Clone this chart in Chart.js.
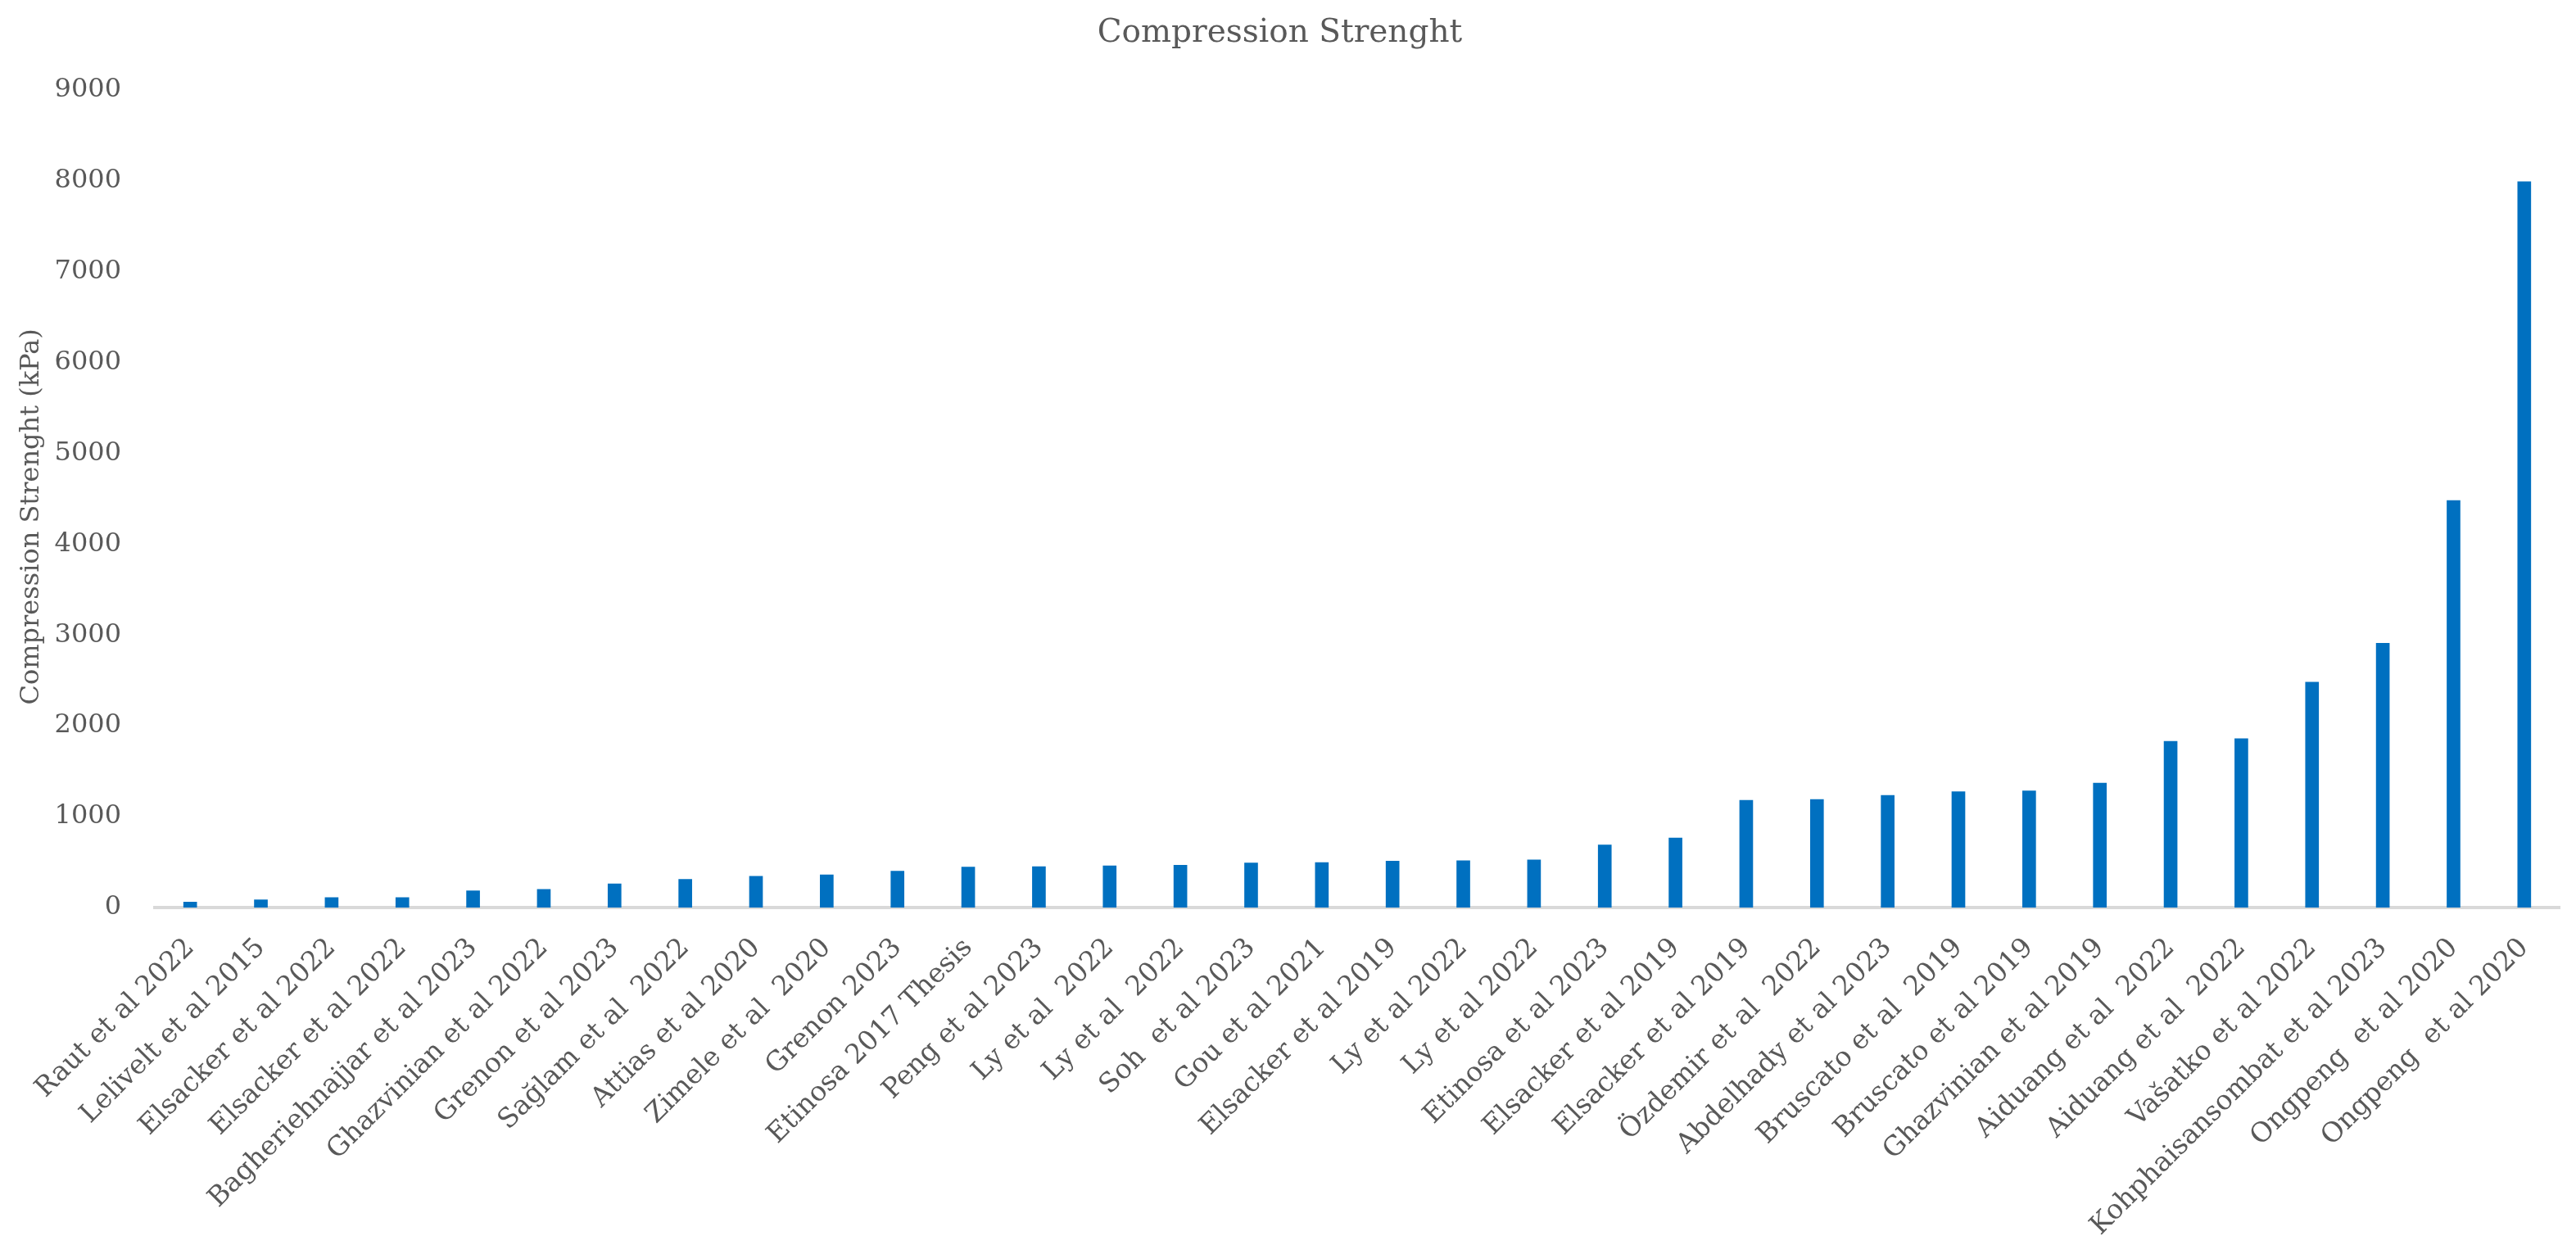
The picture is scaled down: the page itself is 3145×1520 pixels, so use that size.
<!DOCTYPE html>
<html>
<head>
<meta charset="utf-8">
<title>Compression Strenght</title>
<script src="https://cdn.jsdelivr.net/npm/chart.js@4.4.1/dist/chart.umd.min.js"></script>
<style>
  html, body { margin: 0; padding: 0; background: #ffffff; }
  #wrap { width: 3145px; height: 1520px; position: relative; }
</style>
</head>
<body>
<div id="wrap"><canvas id="chart"></canvas></div>
<script>
// Studies, sorted by value (as in the source chart)
const studies = [
  'Raut et al 2022', 'Lelivelt et al 2015', 'Elsacker et al 2022', 'Elsacker et al 2022',
  'Bagheriehnajjar et al 2023', 'Ghazvinian et al 2022', 'Grenon et al 2023', 'Sağlam et al  2022',
  'Attias et al 2020', 'Zimele et al  2020', 'Grenon 2023', 'Etinosa 2017 Thesis',
  'Peng et al 2023', 'Ly et al  2022', 'Ly et al  2022', 'Soh  et al 2023',
  'Gou et al 2021', 'Elsacker et al 2019', 'Ly et al 2022', 'Ly et al 2022',
  'Etinosa et al 2023', 'Elsacker et al 2019', 'Elsacker et al 2019', 'Özdemir et al  2022',
  'Abdelhady et al 2023', 'Bruscato et al  2019', 'Bruscato et al 2019', 'Ghazvinian et al 2019',
  'Aiduang et al  2022', 'Aiduang et al  2022', 'Vašatko et al 2022', 'Kohphaisansombat et al 2023',
  'Ongpeng  et al 2020', 'Ongpeng  et al 2020'
];

// Compression strength in kPa
const strengthKpa = [
  60, 85, 110, 110,
  185, 200, 260, 310,
  345, 360, 400, 445,
  450, 460, 465, 490,
  495, 510, 515, 525,
  690, 765, 1180, 1190,
  1235, 1275, 1285, 1370,
  1830, 1860, 2480, 2910,
  4480, 7990
];

// Y axis range
const yMin = 0;
const yMax = 9000;
const yStep = 1000;
const yTitle = 'Compression Strenght (kPa)';

const textColor = '#595959';
const barColor = '#0070C0';
const axisColor = '#D9D9D9';
const fontFamily = '"DejaVu Serif", "Liberation Serif", serif';

// Draws the rotated y axis title a bit below the plot centre, as in the source
const yTitlePlugin = {
  id: 'yTitle',
  afterDraw(chart) {
    const { ctx, chartArea } = chart;
    ctx.save();
    ctx.translate(39, (chartArea.top + chartArea.bottom) / 2 + 22);
    ctx.rotate(-Math.PI / 2);
    ctx.font = `32px ${fontFamily}`;
    ctx.fillStyle = textColor;
    ctx.textAlign = 'center';
    ctx.textBaseline = 'middle';
    ctx.fillText(yTitle, 0, 0);
    ctx.restore();
  }
};

new Chart(document.getElementById('chart'), {
  type: 'bar',
  data: {
    labels: studies,
    datasets: [{
      label: 'Compression Strenght',
      data: strengthKpa,
      backgroundColor: barColor,
      borderWidth: 0,
      barThickness: 16
    }]
  },
  options: {
    responsive: true,
    maintainAspectRatio: false,
    animation: false,
    layout: {
      padding: { left: 0, right: 20, top: 0, bottom: 0 }
    },
    plugins: {
      legend: { display: false },
      tooltip: { enabled: false },
      title: {
        display: true,
        text: 'Compression Strenght',
        color: textColor,
        font: { family: fontFamily, size: 39, weight: 'normal' },
        padding: { top: 17, bottom: 46 }
      }
    },
    scales: {
      x: {
        grid: { display: false, drawTicks: false },
        border: { display: true, color: axisColor, width: 4 },
        ticks: {
          color: textColor,
          font: { family: fontFamily, size: 33 },
          minRotation: 45,
          maxRotation: 45,
          autoSkip: false,
          padding: 30
        },
        afterFit: (scale) => { scale.height = 412; }
      },
      y: {
        min: yMin,
        max: yMax,
        grid: { display: false, drawTicks: false },
        border: { display: false },
        ticks: {
          stepSize: yStep,
          color: textColor,
          font: { family: fontFamily, size: 32 },
          padding: 41,
          callback: (value) => String(value)
        },
        afterFit: (scale) => { scale.width = 189; }
      }
    }
  },
  plugins: [yTitlePlugin]
});
</script>
</body>
</html>
